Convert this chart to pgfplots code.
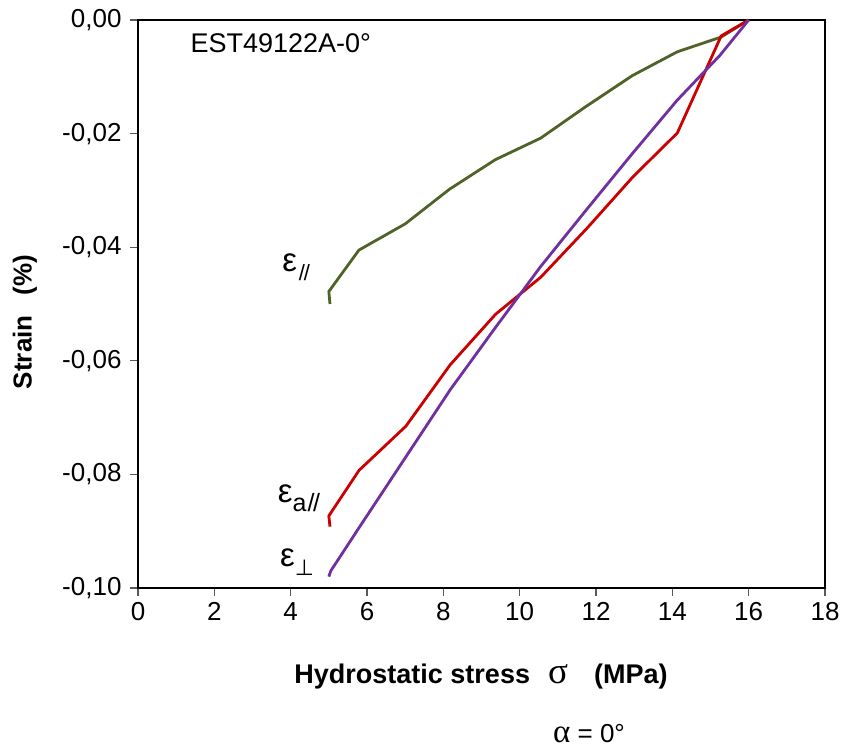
\documentclass[border=0pt]{standalone}
\usepackage{pgfplots}
\pgfplotsset{compat=1.18}
\usepackage{fontspec}
\setmainfont{Liberation Sans}
\newfontfamily\dejavu{DejaVu Sans}
\newfontfamily\serifgr{Liberation Serif}
\definecolor{cgreen}{HTML}{4F6228}
\definecolor{cred}{HTML}{CC0000}
\definecolor{cpurple}{HTML}{7030A0}
\begin{document}
\begin{tikzpicture}
\begin{axis}[
  scale only axis,
  width=687pt, height=568pt,
  xmin=0, xmax=18, ymin=-0.1, ymax=0,
  xtick={0,2,...,18},
  ytick={-0.1,-0.08,-0.06,-0.04,-0.02,0},
  yticklabels={{-0,10},{-0,08},{-0,06},{-0,04},{-0,02},{0,00}},
  xtick pos=left, ytick pos=left,
  tick align=outside,
  major tick length=8pt,
  tick style={line width=1.2pt, black!65},
  axis line style={line width=2.6pt},
  ticklabel style={font=\fontsize{26}{30}\selectfont},
  /pgf/number format/assume math mode=true,
  xticklabel style={yshift=-3pt},
  yticklabel style={xshift=-5pt},
  clip=false,
]
\addplot[cgreen, line width=2.8pt, line join=round] coordinates {
(5.03,-0.0500) (5.00,-0.0478) (5.79,-0.0405) (7.00,-0.0359) (8.16,-0.0298)
(9.36,-0.0246) (10.55,-0.0208) (11.70,-0.0154) (12.95,-0.0098) (14.13,-0.0056)
(15.28,-0.0030) (16.0,0.0)};
\addplot[cred, line width=2.8pt, line join=round] coordinates {
(5.03,-0.0892) (5.00,-0.0873) (5.79,-0.0793) (7.02,-0.0715) (8.18,-0.0607)
(9.37,-0.0518) (10.55,-0.0453) (11.76,-0.0367) (12.97,-0.0276) (14.13,-0.0199)
(15.28,-0.0028) (16.0,0.0)};
\addplot[cpurple, line width=2.8pt, line join=round] coordinates {
(5.00,-0.0980) (5.05,-0.0970) (5.80,-0.0893) (7.00,-0.0771) (8.18,-0.0651)
(9.37,-0.0541) (10.55,-0.0434) (11.75,-0.0334) (12.93,-0.0237) (14.13,-0.0141)
(15.25,-0.0062) (16.0,0.0)};
\node[font=\fontsize{27}{30}\selectfont] at (axis cs:3.74,-0.0040) {EST49122A-0°};
\node[font=\fontsize{33}{36}\selectfont, anchor=west, inner sep=0pt] at (axis cs:3.78,-0.0436) {ε\kern0.05em\raisebox{-9pt}{\fontsize{22}{24}\selectfont/\kern-0.05em/}};
\node[font=\fontsize{33}{36}\selectfont, anchor=west, inner sep=0pt] at (axis cs:3.66,-0.0842) {ε\raisebox{-9pt}{\fontsize{25}{28}\selectfont a\kern0.04em/\kern-0.05em/}};
\node[font=\fontsize{33}{36}\selectfont, anchor=west, inner sep=0pt] at (axis cs:3.72,-0.0955) {ε\raisebox{-9pt}{\fontsize{22}{24}\selectfont\dejavu ⊥}};
\end{axis}
\node[font=\bfseries\fontsize{27}{30}\selectfont] at (343pt,-89pt) {Hydrostatic stress\hspace{18pt}{\mdseries\serifgr\fontsize{37}{36}\selectfont σ}\hspace{26pt}(MPa)};
\node[font=\fontsize{26}{30}\selectfont, inner sep=1pt] at (451pt,-146pt) {{\serifgr\fontsize{33}{30}\selectfont α} = 0°};
\node[font=\bfseries\fontsize{26}{30}\selectfont, rotate=90] at (-113pt,266pt) {Strain\hspace{20pt}(\%)};
\pgfresetboundingbox
\path[use as bounding box] (-138pt,-163pt) rectangle (704pt,588pt);
\end{tikzpicture}
\end{document}
